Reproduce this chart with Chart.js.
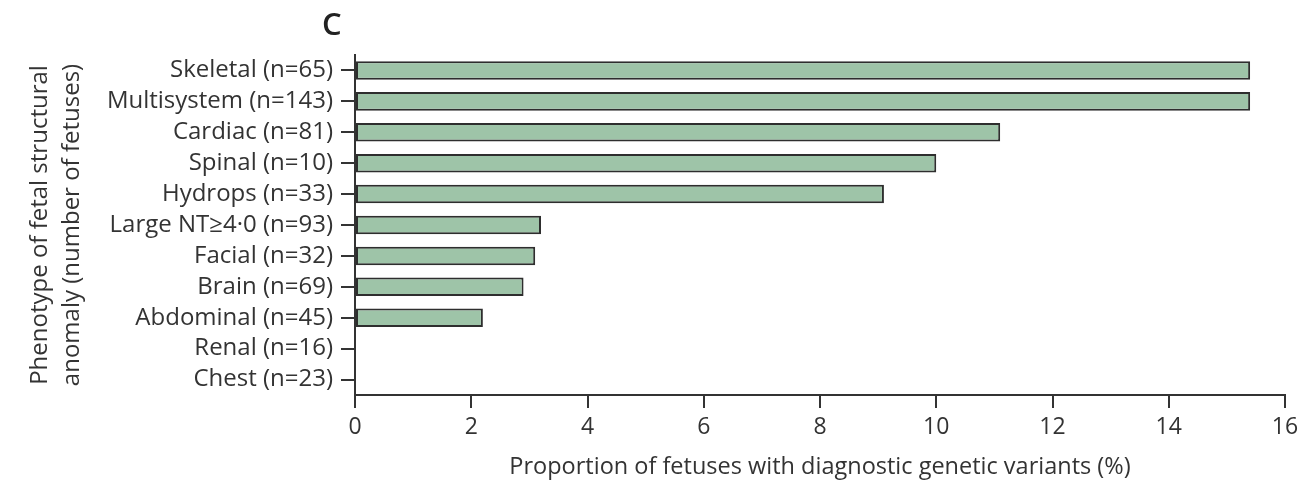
<!DOCTYPE html>
<html>
<head>
<meta charset="utf-8">
<script src="https://cdn.jsdelivr.net/npm/chart.js@4"></script>
<style>
  html, body { margin: 0; padding: 0; background: #fff; }
  #wrap { width: 1314px; height: 484px; }
</style>
</head>
<body>
<div id="wrap"><canvas id="chartPhenotype" width="1314" height="484"></canvas></div>
<script>
// --- données ---
const categories = [
    'Skeletal (n=65)', 'Multisystem (n=143)', 'Cardiac (n=81)', 'Spinal (n=10)',
    'Hydrops (n=33)', 'Large NT\u22654\u00b70 (n=93)', 'Facial (n=32)', 'Brain (n=69)',
    'Abdominal (n=45)', 'Renal (n=16)', 'Chest (n=23)'
];
const proportions = [15.4, 15.4, 11.1, 10.0, 9.1, 3.2, 3.1, 2.9, 2.2, 0, 0];
const xTicks = [0, 2, 4, 6, 8, 10, 12, 14, 16];

const ink = '#333333';
const font = '"Open Sans", "DejaVu Sans", sans-serif';

// lettre du panneau
const panelLetter = {
    id: 'panelLetter',
    afterDraw(chart) {
        const ctx = chart.ctx;
        ctx.save();
        ctx.fillStyle = '#222';
        ctx.font = '600 31px ' + font;
        ctx.textAlign = 'left';
        ctx.textBaseline = 'middle';
        ctx.fillText('C', chart.chartArea.left - 33, 26);
        ctx.restore();
    }
};

new Chart(document.getElementById('chartPhenotype'), {
    type: 'bar',
    data: {
        labels: categories,
        datasets: [{
            data: proportions,
            backgroundColor: '#9ec4a8',
            borderColor: '#2e2e2e',
            borderWidth: ctx => ctx.raw ? 2 : 0,
            borderSkipped: false,
            categoryPercentage: 1,
            barPercentage: 0.6
        }]
    },
    options: {
        indexAxis: 'y',
        responsive: false,
        animation: false,
        layout: { padding: { top: 55, right: 29, bottom: 0, left: 0 } },
        plugins: { legend: { display: false }, tooltip: { enabled: false } },
        scales: {
            x: {
                min: 0, max: 16,
                afterBuildTicks: s => { s.ticks = xTicks.map(v => ({ value: v })); },
                afterFit: s => { s.height = 89; },
                border: { display: true, color: ink, width: 2 },
                grid: { display: true, drawOnChartArea: false, drawTicks: true, tickLength: 13, color: ink, lineWidth: 2 },
                ticks: { color: ink, font: { family: font, size: 23 }, padding: 6, maxRotation: 0 },
                title: {
                    display: true,
                    text: 'Proportion of fetuses with diagnostic genetic variants (%)',
                    color: ink,
                    font: { family: font, size: 23.5 },
                    padding: { top: 0, bottom: 3 }
                }
            },
            y: {
                afterFit: s => { s.width = 355; },
                border: { display: true, color: ink, width: 2 },
                grid: { display: true, offset: false, drawOnChartArea: false, drawTicks: true, tickLength: 14, color: ink, lineWidth: 2 },
                ticks: { color: ink, font: { family: font, size: 24 }, padding: 8, autoSkip: false },
                title: {
                    display: true,
                    text: ['Phenotype of fetal structural', 'anomaly (number of fetuses)'],
                    color: ink,
                    font: { family: font, size: 24, lineHeight: 1.33 },
                    padding: { top: 24, bottom: 0 }
                }
            }
        }
    },
    plugins: [panelLetter]
});
</script>
</body>
</html>
